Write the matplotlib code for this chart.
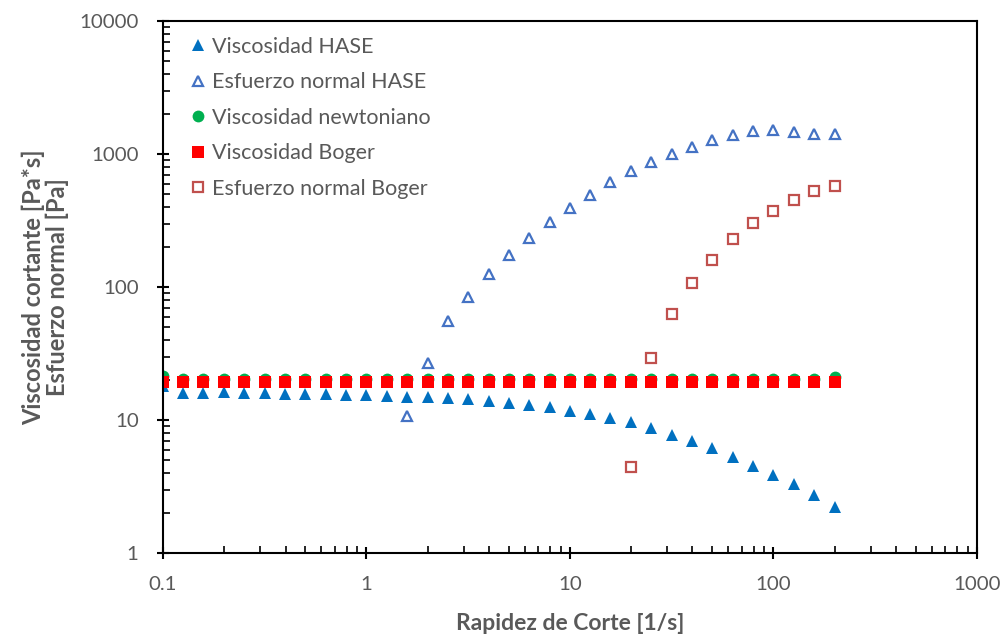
import matplotlib.pyplot as plt
import matplotlib.ticker as ticker
import numpy as np

# shear rate steps, 10 per decade from 0.1 to ~200 1/s
rapidez = [0.1, 0.126, 0.158, 0.2, 0.251, 0.316, 0.398, 0.501, 0.631, 0.794,
           1.0, 1.26, 1.58, 2.0, 2.51, 3.16, 3.98, 5.01, 6.31, 7.94,
           10.0, 12.6, 15.8, 20.0, 25.1, 31.6, 39.8, 50.1, 63.1, 79.4,
           100.0, 126.0, 158.0, 200.0]

visc_hase = [18.0, 15.9, 15.9, 16.1, 15.9, 15.9, 15.7, 15.7, 15.6, 15.5,
             15.3, 15.2, 15.0, 14.8, 14.6, 14.3, 14.0, 13.5, 12.97, 12.5,
             11.75, 11.1, 10.4, 9.66, 8.66, 7.75, 6.95, 6.12, 5.30, 4.51,
             3.86, 3.28, 2.73, 2.21]

# normal stress HASE starts at 1.58 1/s
rapidez_n_hase = rapidez[12:]
normal_hase = [10.7, 27.0, 55.8, 84.1, 124.6, 173, 233.5, 306, 394, 494,
               615, 744, 870, 1000, 1135, 1268, 1397, 1488, 1514, 1463,
               1421, 1421]

visc_newt = [21.6] + [20.3] * 32 + [20.9]
visc_boger = [19.3] * 34

# normal stress Boger starts at 20 1/s
rapidez_n_boger = rapidez[23:]
normal_boger = [4.46, 29.4, 62.4, 106.6, 159.6, 228.4, 301, 375, 453, 530, 572]

plt.rcParams['font.family'] = ['Lato', 'DejaVu Sans']
gris = '#595959'

fig = plt.figure(figsize=(10.05, 6.39), dpi=100)
ax = fig.add_axes([0.1622, 0.1346, 0.8099, 0.8325])

ms = 8.5
ax.plot(rapidez, visc_hase, '^', color='#0070C0', ms=ms, mew=0,
        label='Viscosidad HASE')
ax.plot(rapidez_n_hase, normal_hase, '^', mfc='none', mec='#4472C4', mew=1.6,
        ms=ms - 1, label='Esfuerzo normal HASE')
ax.plot(rapidez, visc_newt, 'o', color='#00B050', ms=ms, mew=0,
        label='Viscosidad newtoniano')
ax.plot(rapidez, visc_boger, 's', color='#FF0000', ms=ms + 0.5, mew=0,
        label='Viscosidad Boger')
ax.plot(rapidez_n_boger, normal_boger, 's', mfc='none', mec='#C0504D', mew=1.6,
        ms=ms - 1, label='Esfuerzo normal Boger')

ax.set_xscale('log')
ax.set_yscale('log')
ax.set_xlim(0.1, 1000)
ax.set_ylim(1, 10000)

ax.xaxis.set_major_formatter(ticker.FuncFormatter(lambda v, p: '%g' % v))
ax.yaxis.set_major_formatter(ticker.FuncFormatter(lambda v, p: '%g' % v))
ax.xaxis.set_minor_locator(ticker.LogLocator(subs=np.arange(2, 10)))
ax.yaxis.set_minor_locator(ticker.LogLocator(subs=np.arange(2, 10)))
ax.xaxis.set_minor_formatter(ticker.NullFormatter())
ax.yaxis.set_minor_formatter(ticker.NullFormatter())

ax.tick_params(which='major', direction='inout', length=9, width=1.5,
               labelsize=14.7, labelcolor=gris)
ax.tick_params(axis='x', which='major', pad=12)
ax.tick_params(axis='y', which='major', pad=13)
ax.tick_params(which='minor', direction='in', length=5, width=1.2)
for s in ax.spines.values():
    s.set_linewidth(1.5)
    s.set_color('black')

ax.set_xlabel('Rapidez de Corte [1/s]', fontsize=16.5, fontweight='bold',
              color=gris)
ax.set_ylabel('Viscosidad cortante [Pa*s]\nEsfuerzo normal [Pa]', fontsize=17,
              fontweight='bold', color=gris, linespacing=1.05)
ax.xaxis.set_label_coords(0.5, -0.1125)
ax.yaxis.set_label_coords(-0.115, 0.5)

leg = ax.legend(loc='upper left', bbox_to_anchor=(0.008, 0.999), frameon=False,
                fontsize=15.5, handletextpad=0.05, handlelength=1.2,
                labelspacing=0.72, borderaxespad=0.3)
for t in leg.get_texts():
    t.set_color(gris)

fig.savefig('out.png', dpi=100)
